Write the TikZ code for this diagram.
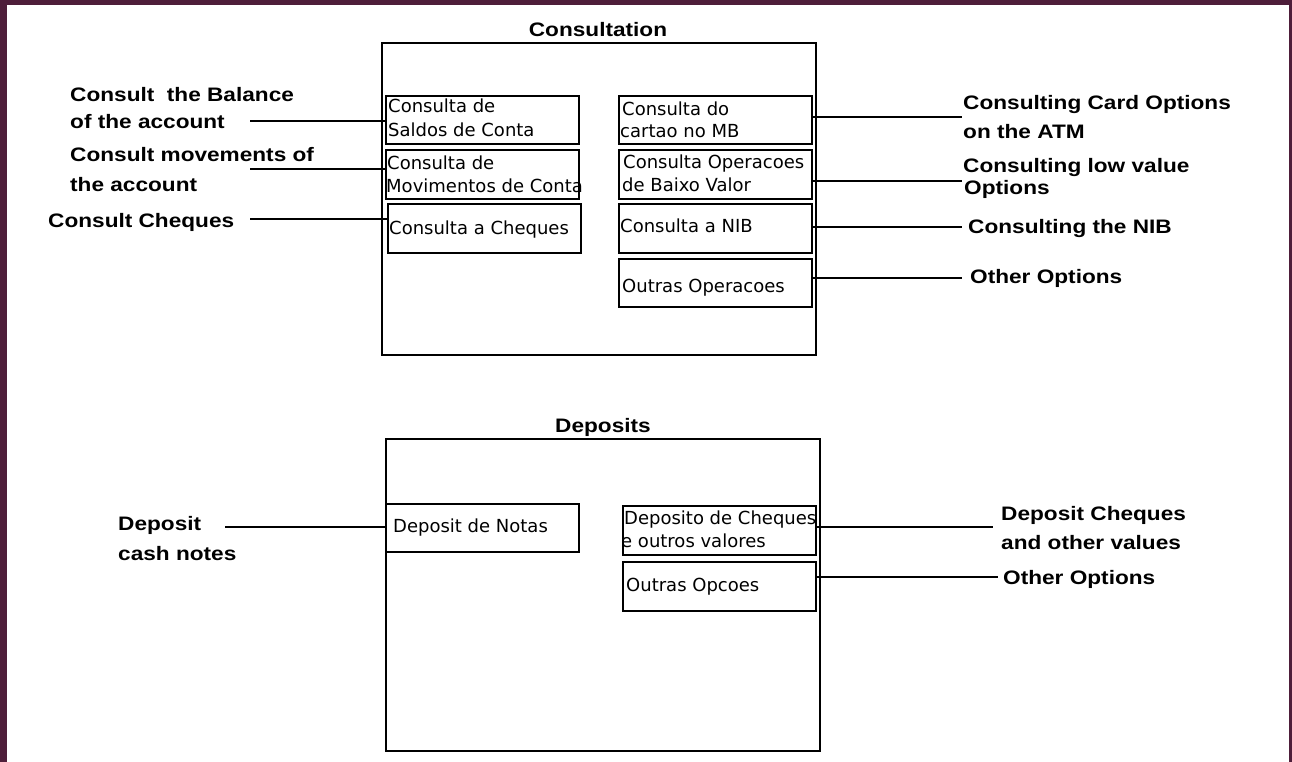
\documentclass[tikz,border=0pt]{standalone}
\usepackage{fontspec}
\newfontfamily\labfont[FakeStretch=1.16]{Liberation Sans}
\newfontfamily\boxfont{DejaVu Sans}
\definecolor{framecol}{RGB}{78,30,58}
\tikzset{
  lab/.style={font=\labfont\bfseries\fontsize{19.5}{23}\selectfont, inner sep=0pt, anchor=base west},
  ttl/.style={font=\labfont\bfseries\fontsize{19.5}{23}\selectfont, inner sep=0pt, anchor=base},
  btxt/.style={font=\boxfont\fontsize{18}{22}\selectfont, inner sep=0pt, anchor=base west},
  obox/.style={draw, line width=2pt, inner sep=0pt, outer sep=0pt, anchor=north west},
  ibox/.style={draw, line width=2pt, inner sep=0pt, outer sep=0pt, anchor=north west},
  conn/.style={line width=1.7pt}
}
\begin{document}
\begin{tikzpicture}[x=1pt,y=-1pt]
\useasboundingbox (0,0) rectangle (1292,762);
\fill[framecol] (0,0) rectangle (1292,762);
\fill[white] (7,5) rectangle (1289,762);

% ---------- Consultation ----------
\node[ttl] (tcons) at (598,37) {Consultation};
\node[obox, minimum width=434pt, minimum height=312pt] (cons) at (382,43) {};

\node[ibox, minimum width=193pt, minimum height=48pt] (b1) at (386,96) {};
\node[ibox, minimum width=193pt, minimum height=49pt] (b2) at (386,150) {};
\node[ibox, minimum width=193pt, minimum height=49pt] (b3) at (388,204) {};
\node[ibox, minimum width=193pt, minimum height=48pt] (b4) at (619,96) {};
\node[ibox, minimum width=193pt, minimum height=49pt] (b5) at (619,150) {};
\node[ibox, minimum width=193pt, minimum height=49pt] (b6) at (619,204) {};
\node[ibox, minimum width=193pt, minimum height=48pt] (b7) at (619,259) {};

\node[btxt] (t1a) at (388,113) {Consulta de};
\node[btxt] (t1b) at (388,137) {Saldos de Conta};
\node[btxt] (t2a) at (387,170) {Consulta de};
\node[btxt] (t2b) at (386,193) {Movimentos de Conta};
\node[btxt] (t3) at (389,234) {Consulta a Cheques};
\node[btxt] (t4a) at (622,116) {Consulta do};
\node[btxt] (t4b) at (620,138) {cartao no MB};
\node[btxt] (t5a) at (623,168) {Consulta Operacoes};
\node[btxt] (t5b) at (622,191) {de Baixo Valor};
\node[btxt] (t6) at (620,232) {Consulta a NIB};
\node[btxt] (t7) at (622,292) {Outras Operacoes};

% left labels
\node[lab] (l1a) at (70,102) {Consult\ \ the Balance};
\node[lab] (l1b) at (70,129) {of the account};
\node[lab] (l2a) at (70,162) {Consult movements of};
\node[lab] (l2b) at (70,191) {the account};
\node[lab] (l3) at (48,227) {Consult Cheques};
\coordinate (c1) at (250,121);
\coordinate (c2) at (250,169);
\coordinate (c3) at (250,219);
\draw[conn] (c1) -- (c1 -| b1.west);
\draw[conn] (c2) -- (c2 -| b2.west);
\draw[conn] (c3) -- (c3 -| b3.west);

% right labels
\node[lab] (r1a) at (963,110) {Consulting Card Options};
\node[lab] (r1b) at (963,139) {on the ATM};
\node[lab] (r2a) at (963,173) {Consulting low value};
\node[lab] (r2b) at (964,194) {Options};
\node[lab] (r3) at (968,233) {Consulting the NIB};
\node[lab] (r4) at (970,283) {Other Options};
\coordinate (d1) at (962,117);
\coordinate (d2) at (962,181);
\coordinate (d3) at (962,227);
\coordinate (d4) at (962,278);
\draw[conn] (d1 -| b4.east) -- (d1);
\draw[conn] (d2 -| b5.east) -- (d2);
\draw[conn] (d3 -| b6.east) -- (d3);
\draw[conn] (d4 -| b7.east) -- (d4);

% ---------- Deposits ----------
\node[ttl] (tdep) at (603,432) {Deposits};
\node[obox, minimum width=434pt, minimum height=312pt] (dep) at (386,439) {};

\node[ibox, minimum width=193pt, minimum height=48pt] (e1) at (386,504) {};
\node[ibox, minimum width=193pt, minimum height=49pt] (e2) at (623,506) {};
\node[ibox, minimum width=193pt, minimum height=49pt] (e3) at (623,562) {};

\node[btxt] (u1) at (393,532) {Deposit de Notas};
\node[btxt] (u2a) at (624,524) {Deposito de Cheques};
\node[btxt] (u2b) at (621,547) {e outros valores};
\node[btxt] (u3) at (626,591) {Outras Opcoes};

\node[lab] (m1a) at (118,530) {Deposit};
\node[lab] (m1b) at (118,560) {cash notes};
\coordinate (g1) at (225,527);
\draw[conn] (g1) -- (g1 -| dep.west);

\node[lab] (n1a) at (1001,520) {Deposit Cheques};
\node[lab] (n1b) at (1001,549) {and other values};
\node[lab] (n2) at (1003,584) {Other Options};
\coordinate (h1) at (993,527);
\coordinate (h2) at (998,577);
\draw[conn] (h1 -| e2.east) -- (h1);
\draw[conn] (h2 -| e3.east) -- (h2);
\end{tikzpicture}
\end{document}
